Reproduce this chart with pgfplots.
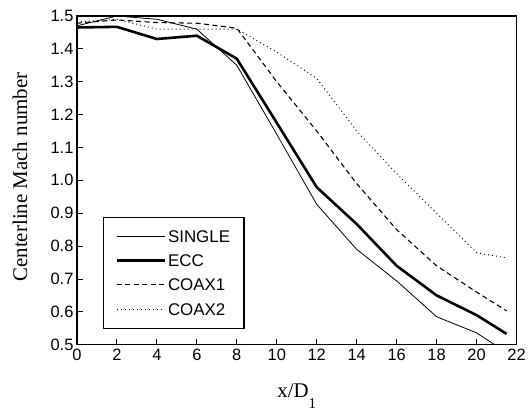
\documentclass[border=0pt]{standalone}
\usepackage{fontspec}
\setmainfont{Liberation Serif}
\setsansfont{Liberation Sans}
\usepackage{pgfplots}
\pgfplotsset{compat=1.18}

\begin{document}
\begin{tikzpicture}
\begin{axis}[
  scale only axis, width=440bp, height=329bp,
  xmin=0, xmax=22, ymin=0.5, ymax=1.5,
  xtick={0,2,4,6,8,10,12,14,16,18,20,22},
  ytick={0.5,0.6,0.7,0.8,0.9,1.0,1.1,1.2,1.3,1.4,1.5},
  yticklabel style={/pgf/number format/fixed,/pgf/number format/fixed zerofill,/pgf/number format/precision=1},
  /pgf/number format/assume math mode=true,
  ticklabel style={font=\sffamily\fontsize{16.5}{18}\selectfont},
  xticklabel style={yshift=-1bp},
  tick pos=left, tick align=inside, major tick length=6bp,
  tick style={black, line width=0.8bp},
  axis line style={line width=1.3bp},
  xlabel={x/D\raisebox{-1.1ex}{\fontsize{15}{15}\selectfont 1}},
  ylabel={Centerline Mach number},
  label style={font=\fontsize{21}{24}\selectfont},
  xlabel style={at={(axis description cs:0.5,-0.161)}, anchor=base},
  ylabel style={at={(axis description cs:-0.1295,0.51)}, anchor=center},
  legend style={at={(rel axis cs:0.059,0.0486)}, anchor=south west, draw=black, line width=1.2bp,
    font=\sffamily\fontsize{17}{19}\selectfont, inner xsep=12bp, inner ysep=13bp,
    row sep=12.3bp,
    nodes={inner xsep=2bp, inner ysep=0bp, text height=12bp, text depth=0bp}},
  legend cell align=left,
  legend image code/.code={\draw[#1] (0bp,0bp) -- (48bp,0bp);},
]
\addplot[black, line width=0.8bp] coordinates {(0,1.47)(2,1.50)(4,1.49)(6,1.46)(8,1.35)(10,1.14)(12,0.927)(14,0.79)(16,0.694)(18,0.585)(20,0.536)(21.5,0.476)};
\addlegendentry{SINGLE}
\addplot[black, line width=2.6bp] coordinates {(0,1.465)(2,1.467)(4,1.43)(6,1.44)(8,1.37)(10,1.175)(12,0.979)(14,0.867)(16,0.74)(18,0.65)(20,0.59)(21.5,0.533)};
\addlegendentry{ECC}
\addplot[black, line width=1.1bp, dash pattern=on 5bp off 3.5bp] coordinates {(0,1.478)(2,1.488)(4,1.48)(6,1.478)(8,1.463)(10,1.30)(12,1.15)(14,0.99)(16,0.85)(18,0.74)(20,0.66)(21.5,0.603)};
\addlegendentry{COAX1}
\addplot[black, line width=0.9bp, dash pattern=on 1bp off 3bp] coordinates {(0,1.482)(2,1.49)(4,1.46)(6,1.46)(8,1.46)(10,1.39)(12,1.31)(14,1.15)(16,1.02)(18,0.90)(20,0.78)(21.5,0.764)};
\addlegendentry{COAX2}
\end{axis}
\path ([shift={(-77bp,-66bp)}]current axis.south west) rectangle ([shift={(12bp,16bp)}]current axis.north east);
\end{tikzpicture}
\end{document}
